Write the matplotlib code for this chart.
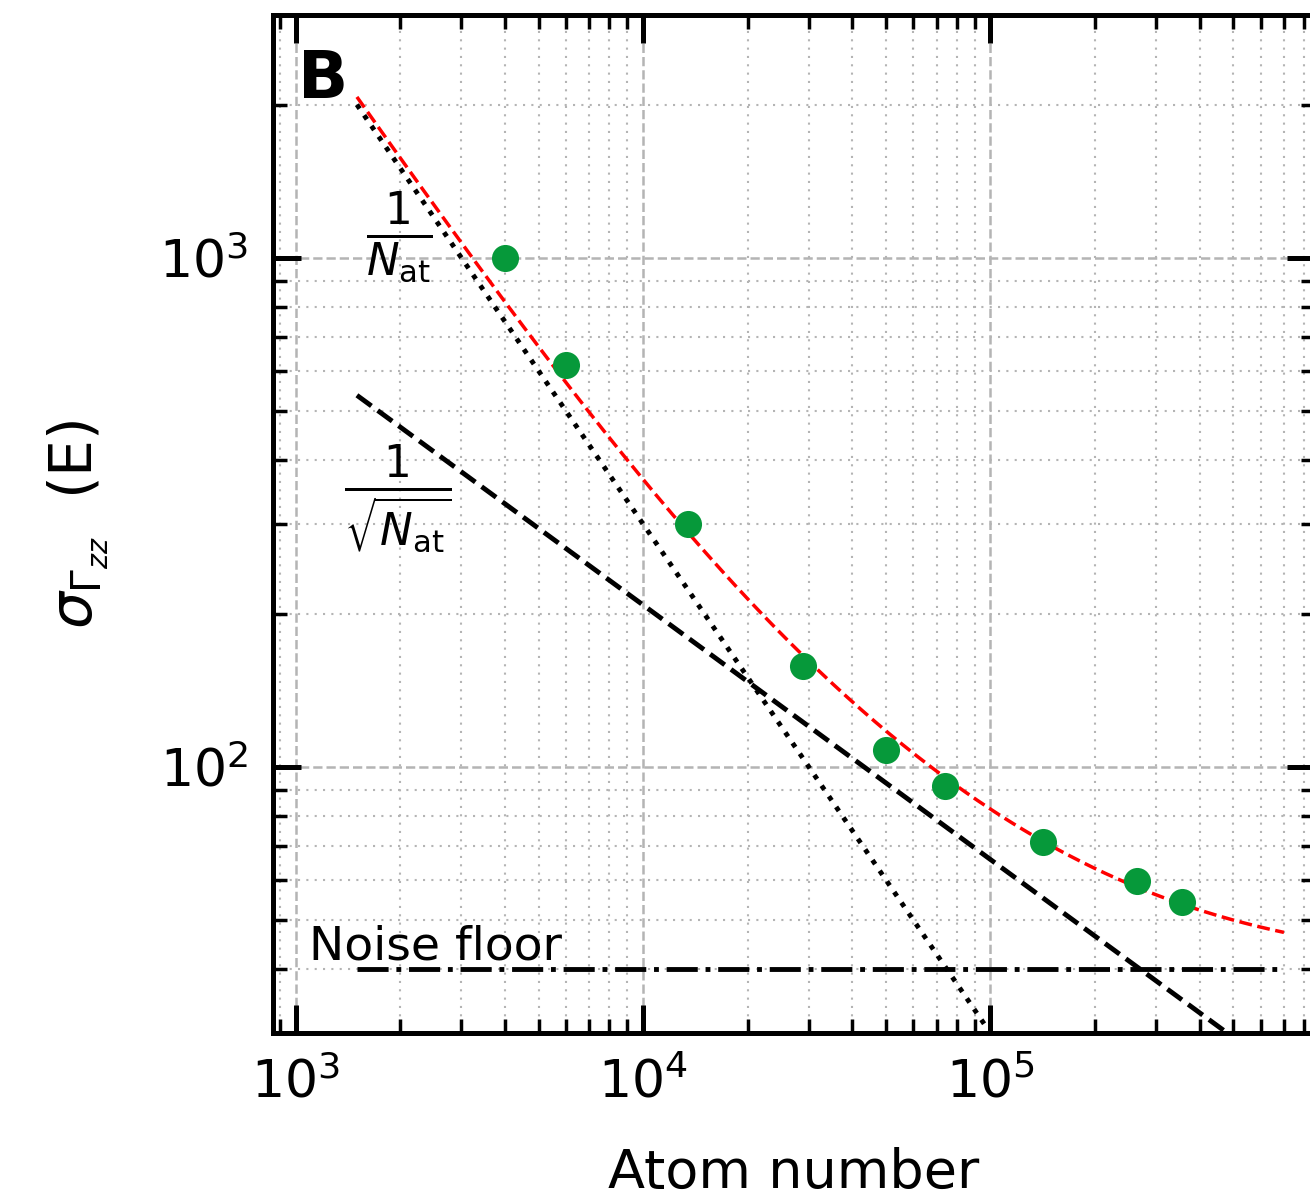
import numpy as np
import matplotlib
matplotlib.use("Agg")
import matplotlib.pyplot as plt
from matplotlib.ticker import LogLocator

# measured gradient noise vs. atom number
atom_number = [4000, 6000, 13500, 28900, 50000, 74200, 141500, 264000, 356000]
sigma_gzz = [1000, 617, 300, 158, 108, 91.7, 71.2, 59.7, 54.3]

# noise model: 1/N term, 1/sqrt(N) term and constant floor (E)
coef_inv = 3.0e6
coef_sqrt = 2.08e4
noise_floor = 40.0
model_range = (1500, 7e5)

x_limits = (860, 8.6e5)
y_limits = (30, 3000)

green = "#06993a"
grid_color = "#b4b4b4"

fig = plt.figure(figsize=(13.1, 12.02), dpi=100)
ax = fig.add_axes([0.2084, 0.1406, 0.7954, 0.8469])
ax.set_xscale("log")
ax.set_yscale("log")

n = np.geomspace(model_range[0], model_range[1], 400)
inv_term = coef_inv / n
sqrt_term = coef_sqrt / np.sqrt(n)
floor_term = np.full_like(n, noise_floor)
total = np.sqrt(inv_term ** 2 + sqrt_term ** 2 + floor_term ** 2)

ax.plot(n, inv_term, ls=":", color="black", lw=3.5)
ax.plot(n, sqrt_term, ls="--", color="black", lw=3.5)
ax.plot(n, floor_term, ls="-.", color="black", lw=3.5)
ax.plot(n, total, ls="--", color="red", lw=2.5)
ax.plot(atom_number, sigma_gzz, "o", color=green, ms=19.5, mec="none", zorder=5)

ax.set_xlim(*x_limits)
ax.set_ylim(*y_limits)

ax.xaxis.set_minor_locator(LogLocator(base=10, subs=np.arange(2, 10)))
ax.yaxis.set_minor_locator(LogLocator(base=10, subs=np.arange(2, 10)))

ax.grid(True, which="major", ls="--", color=grid_color, lw=1.8)
ax.grid(True, which="minor", ls=(0, (1, 3)), color=grid_color, lw=1.5)
ax.set_axisbelow(True)

ax.tick_params(which="both", direction="in", top=True, right=True)
ax.tick_params(which="major", length=20, width=3.6, labelsize=37.5, pad=18)
ax.tick_params(which="minor", length=10, width=2.5)
for spine in ax.spines.values():
    spine.set_linewidth(3.6)

ax.set_xlabel("Atom number", fontsize=39)
ax.xaxis.set_label_coords(0.5, -0.112)
ax.set_ylabel(r"$\sigma_{\Gamma_{zz}}$  (E)", fontsize=42)
ax.yaxis.set_label_coords(-0.155, 0.5)

ax.text(0.024, 0.9185, "B", transform=ax.transAxes, fontsize=47.5,
        fontweight="bold", ha="left", va="baseline")
ax.text(1990, 1094, r"$\frac{1}{N_\mathrm{at}}$", fontsize=45,
        ha="center", va="center")
ax.text(1965, 336, r"$\frac{1}{\sqrt{N_\mathrm{at}}}$", fontsize=45,
        ha="center", va="center")
ax.text(1090, 41.9, "Noise floor", fontsize=34, ha="left", va="baseline")

fig.savefig("out.png", dpi=100)
